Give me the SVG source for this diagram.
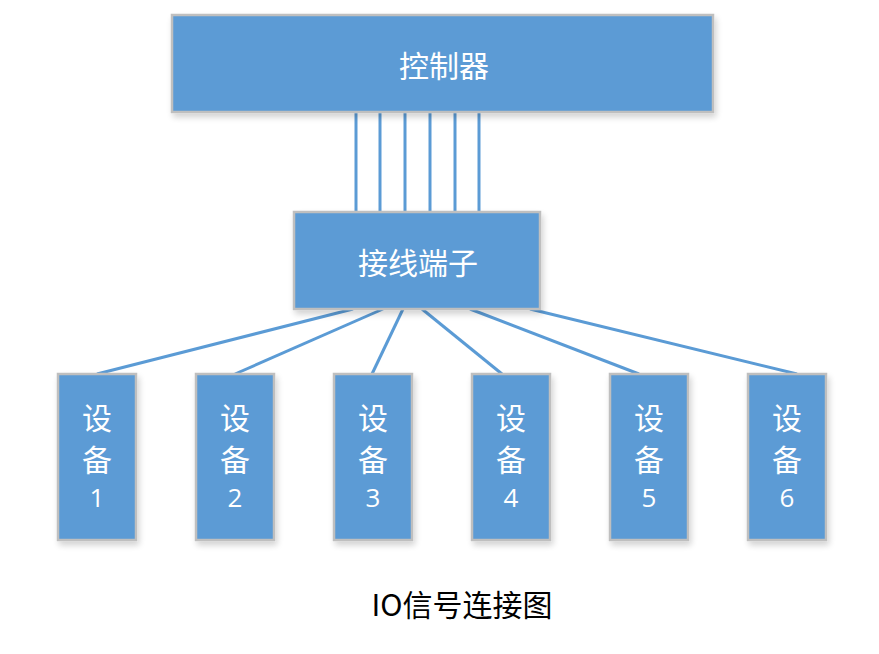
<svg xmlns="http://www.w3.org/2000/svg" width="879" height="654" viewBox="0 0 879 654">
<defs>
<filter id="sh" x="-10%" y="-10%" width="130%" height="130%">
<feGaussianBlur in="SourceAlpha" stdDeviation="3"/>
<feOffset dx="2" dy="4" result="b"/>
<feComponentTransfer><feFuncA type="linear" slope="0.18"/></feComponentTransfer>
<feMerge><feMergeNode/><feMergeNode in="SourceGraphic"/></feMerge>
</filter>
</defs>
<style>
.box{fill:#5b9bd5;stroke:#bfbfbf;stroke-width:2.5;filter:url(#sh)}
.lbl{fill:#ffffff;font-family:"Noto Sans CJK SC","Microsoft YaHei",sans-serif;font-size:30px;text-anchor:middle;dominant-baseline:central}
.num{fill:#ffffff;font-family:"Open Sans","Noto Sans",sans-serif;font-size:26px;text-anchor:middle;dominant-baseline:central}
.wire{stroke:#5b9bd5;stroke-width:3;fill:none}
.title{fill:#000000;font-family:"Noto Sans CJK SC",sans-serif;font-size:30px;text-anchor:middle;dominant-baseline:central}
</style>
<rect width="879" height="654" fill="#ffffff"/>
<g id="connectors">
<line class="wire" x1="356" y1="112" x2="356" y2="212"/>
<line class="wire" x1="380" y1="112" x2="380" y2="212"/>
<line class="wire" x1="405" y1="112" x2="405" y2="212"/>
<line class="wire" x1="430" y1="112" x2="430" y2="212"/>
<line class="wire" x1="455" y1="112" x2="455" y2="212"/>
<line class="wire" x1="479" y1="112" x2="479" y2="212"/>
<line class="wire" x1="353" y1="309" x2="97" y2="374"/>
<line class="wire" x1="383" y1="309" x2="235" y2="374"/>
<line class="wire" x1="403" y1="309" x2="372" y2="374"/>
<line class="wire" x1="422" y1="309" x2="502" y2="374"/>
<line class="wire" x1="470" y1="309" x2="639" y2="374"/>
<line class="wire" x1="530" y1="309" x2="797" y2="374"/>
</g>
<g id="controller">
<rect class="box" x="172" y="15" width="541" height="97"/>
<text class="lbl" x="444" y="64">控制器</text>
</g>
<g id="terminal">
<rect class="box" x="294" y="212" width="246" height="97"/>
<text class="lbl" x="418" y="261">接线端子</text>
</g>
<g id="device1">
<rect class="box" x="58" y="374" width="78" height="166"/>
<text class="lbl" x="97" y="416">设</text><text class="lbl" x="97" y="458">备</text><text class="num" x="97" y="497">1</text>
</g>
<g id="device2">
<rect class="box" x="196" y="374" width="78" height="166"/>
<text class="lbl" x="235" y="416">设</text><text class="lbl" x="235" y="458">备</text><text class="num" x="235" y="497">2</text>
</g>
<g id="device3">
<rect class="box" x="334" y="374" width="78" height="166"/>
<text class="lbl" x="373" y="416">设</text><text class="lbl" x="373" y="458">备</text><text class="num" x="373" y="497">3</text>
</g>
<g id="device4">
<rect class="box" x="472" y="374" width="78" height="166"/>
<text class="lbl" x="511" y="416">设</text><text class="lbl" x="511" y="458">备</text><text class="num" x="511" y="497">4</text>
</g>
<g id="device5">
<rect class="box" x="610" y="374" width="78" height="166"/>
<text class="lbl" x="649" y="416">设</text><text class="lbl" x="649" y="458">备</text><text class="num" x="649" y="497">5</text>
</g>
<g id="device6">
<rect class="box" x="748" y="374" width="78" height="166"/>
<text class="lbl" x="787" y="416">设</text><text class="lbl" x="787" y="458">备</text><text class="num" x="787" y="497">6</text>
</g>
<text class="title" x="462" y="603">IO信号连接图</text>
</svg>
